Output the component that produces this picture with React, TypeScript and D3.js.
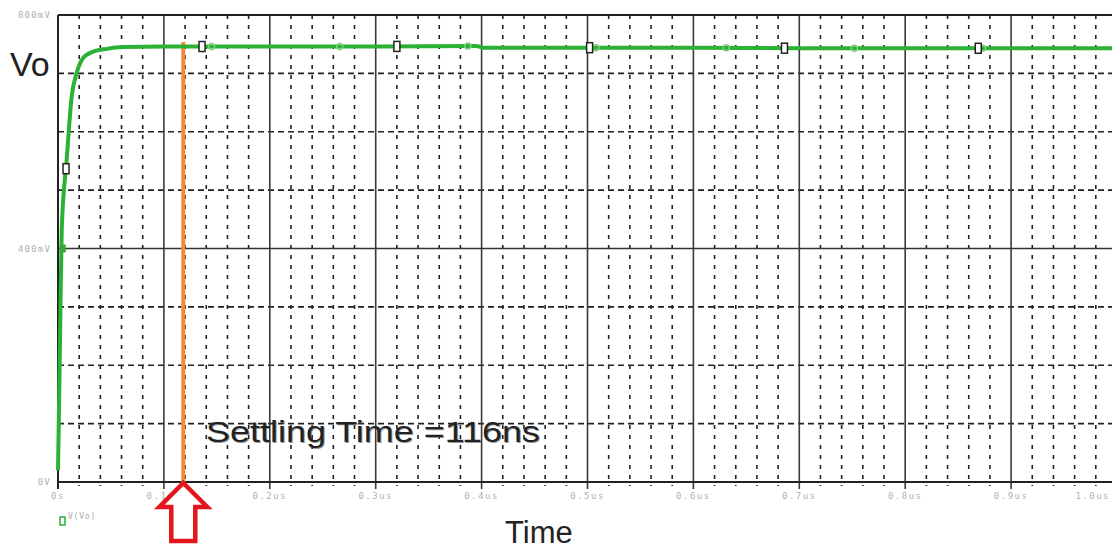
import React from "react";
import * as d3 from "d3";

// time in microseconds, voltage in volts
const curveTime = [0, 0.0009, 0.0019, 0.0035, 0.0082, 0.0129, 0.0177, 0.0236, 0.033, 0.0463, 0.0614, 0.1, 0.2, 0.3, 0.395, 0.402, 0.41, 0.5, 0.6, 0.7, 0.8, 0.9, 1.0];
const curveVolt = [0.02, 0.12, 0.243, 0.432, 0.552, 0.66, 0.701, 0.726, 0.737, 0.742, 0.745, 0.746, 0.746, 0.746, 0.747, 0.744, 0.744, 0.744, 0.744, 0.743, 0.743, 0.743, 0.743];
const boxMarkerTimes = [0.0076, 0.136, 0.32, 0.502, 0.686, 0.869];
const dotMarkerTimes = [0.145, 0.266, 0.387, 0.508, 0.631, 0.752, 0.873];
const xTickLabels = ["0s", "0.1us", "0.2us", "0.3us", "0.4us", "0.5us", "0.6us", "0.7us", "0.8us", "0.9us", "1.0us"];
const yTickValues = [0, 0.4, 0.8];
const yTickLabels = ["0V", "400mV", "800mV"];
const settlingTime = 0.1183;
const seriesName = "V(Vo)";

export default function App() {
  const W = 1112, H = 550;
  const x = d3.scaleLinear().domain([0, 1]).range([58, 1117]);
  const y = d3.scaleLinear().domain([0, 0.8]).range([482, 15]);
  const pts: [number, number][] = curveTime.map((t, i) => [t, curveVolt[i]]);
  const line = d3.line<[number, number]>().x(d => x(d[0])).y(d => y(d[1])).curve(d3.curveMonotoneX);
  const interp = (t: number) => {
    const i = d3.bisectLeft(curveTime, t);
    if (i <= 0) return curveVolt[0];
    if (i >= curveTime.length) return curveVolt[curveVolt.length - 1];
    const t0 = curveTime[i - 1], t1 = curveTime[i];
    const f = (t - t0) / (t1 - t0);
    return curveVolt[i - 1] + f * (curveVolt[i] - curveVolt[i - 1]);
  };
  const majorX = d3.range(0, 11).map(i => i / 10);
  const minorX = d3.range(0, 51).filter(i => i % 5 !== 0).map(i => i / 50);
  const hLines = d3.range(0, 9).map(i => i / 10);
  const gridColor = "#333";
  const ax = x(settlingTime);
  const base = y(0);
  const arrowPath = `M${ax},${base + 1} L${ax + 24},${base + 25} L${ax + 12},${base + 25} L${ax + 12},${base + 59} L${ax - 12},${base + 59} L${ax - 12},${base + 25} L${ax - 24},${base + 25} Z`;
  const labelFont = "DejaVu Sans Mono, monospace";
  return (
    <svg width={W} height={H} style={{ position: "absolute", left: 0, top: 0, background: "#fff" }}>
      <rect x={0} y={0} width={W} height={H} fill="#fff" />
      {minorX.map((t, i) => (
        <line key={"mx" + i} x1={x(t)} x2={x(t)} y1={y(0.8)} y2={base + 4} stroke="#222" strokeWidth={1.6} strokeDasharray="4,6" />
      ))}
      {hLines.map((v, i) => {
        const solid = yTickValues.some(tv => Math.abs(tv - v) < 1e-9);
        return (
          <line key={"h" + i} x1={x(0)} x2={W} y1={y(v)} y2={y(v)} stroke={solid ? gridColor : "#222"} strokeWidth={1.6} strokeDasharray={solid ? undefined : "6,4"} />
        );
      })}
      {majorX.map((t, i) => (
        <line key={"Mx" + i} x1={x(t)} x2={x(t)} y1={y(0.8)} y2={base + 7} stroke={i === 0 ? "#222" : "#3a3a3a"} strokeWidth={i === 0 ? 2 : 1.6} />
      ))}
      <line x1={x(0)} x2={W} y1={base} y2={base} stroke="#222" strokeWidth={2} />
      <line x1={x(0)} x2={W} y1={y(0.8)} y2={y(0.8)} stroke="#222" strokeWidth={2} />
      {majorX.map((t, i) => {
        const last = i === majorX.length - 1;
        return (
          <text key={"xl" + i} x={last ? W - 2 : x(t)} y={base + 17} fontSize={9} letterSpacing={1.5} fontFamily={labelFont} fill="#b0b0b0" textAnchor={last ? "end" : "middle"}>{xTickLabels[i]}</text>
        );
      })}
      {yTickValues.map((v, i) => (
        <text key={"yl" + i} x={51} y={y(v) + 3} fontSize={9} letterSpacing={1.2} fontFamily={labelFont} fill="#b0b0b0" textAnchor="end">{yTickLabels[i]}</text>
      ))}
      <line x1={ax} x2={ax} y1={42} y2={base} stroke="#f5883a" strokeWidth={4} />
      <path d={line(pts) || ""} fill="none" stroke="#2bb134" strokeWidth={4} strokeLinejoin="round" />
      {dotMarkerTimes.map((t, i) => (
        <circle key={"dm" + i} cx={x(t)} cy={y(interp(t))} r={3} fill="none" stroke="#7ccf7c" strokeWidth={1.5} />
      ))}
      <rect x={x(0.0045) - 3} y={y(0.4) - 4} width={6} height={8} fill="#3aa63a" />
      {boxMarkerTimes.map((t, i) => (
        <rect key={"bm" + i} x={x(t) - 3} y={y(interp(t)) - 5} width={6} height={10} fill="#fff" stroke="#222" strokeWidth={1.5} />
      ))}
      <rect x={60} y={517} width={5} height={8} fill="none" stroke="#2bb134" strokeWidth={1.5} />
      <text x={68} y={519} fontSize={8} letterSpacing={0.8} fontFamily={labelFont} fill="#aaa">{seriesName}</text>
      <path d={arrowPath} fill="#fff" stroke="#e3161e" strokeWidth={4.5} strokeLinejoin="miter" />
      <text x={10} y={76} fontSize={34} fontFamily="Liberation Sans, Arial, sans-serif" fill="#222">Vo</text>
      <text x={505} y={543} fontSize={31} fontFamily="Liberation Sans, Arial, sans-serif" fill="#222">Time</text>
      <text x={207} y={443} fontSize={30} fontFamily="Liberation Sans, Arial, sans-serif" fill="#555" opacity={0.6} textLength={334} lengthAdjust="spacingAndGlyphs">Settling Time =116ns</text>
      <text x={206} y={442} fontSize={30} fontFamily="Liberation Sans, Arial, sans-serif" fill="#222" textLength={334} lengthAdjust="spacingAndGlyphs">Settling Time =116ns</text>
    </svg>
  );
}
